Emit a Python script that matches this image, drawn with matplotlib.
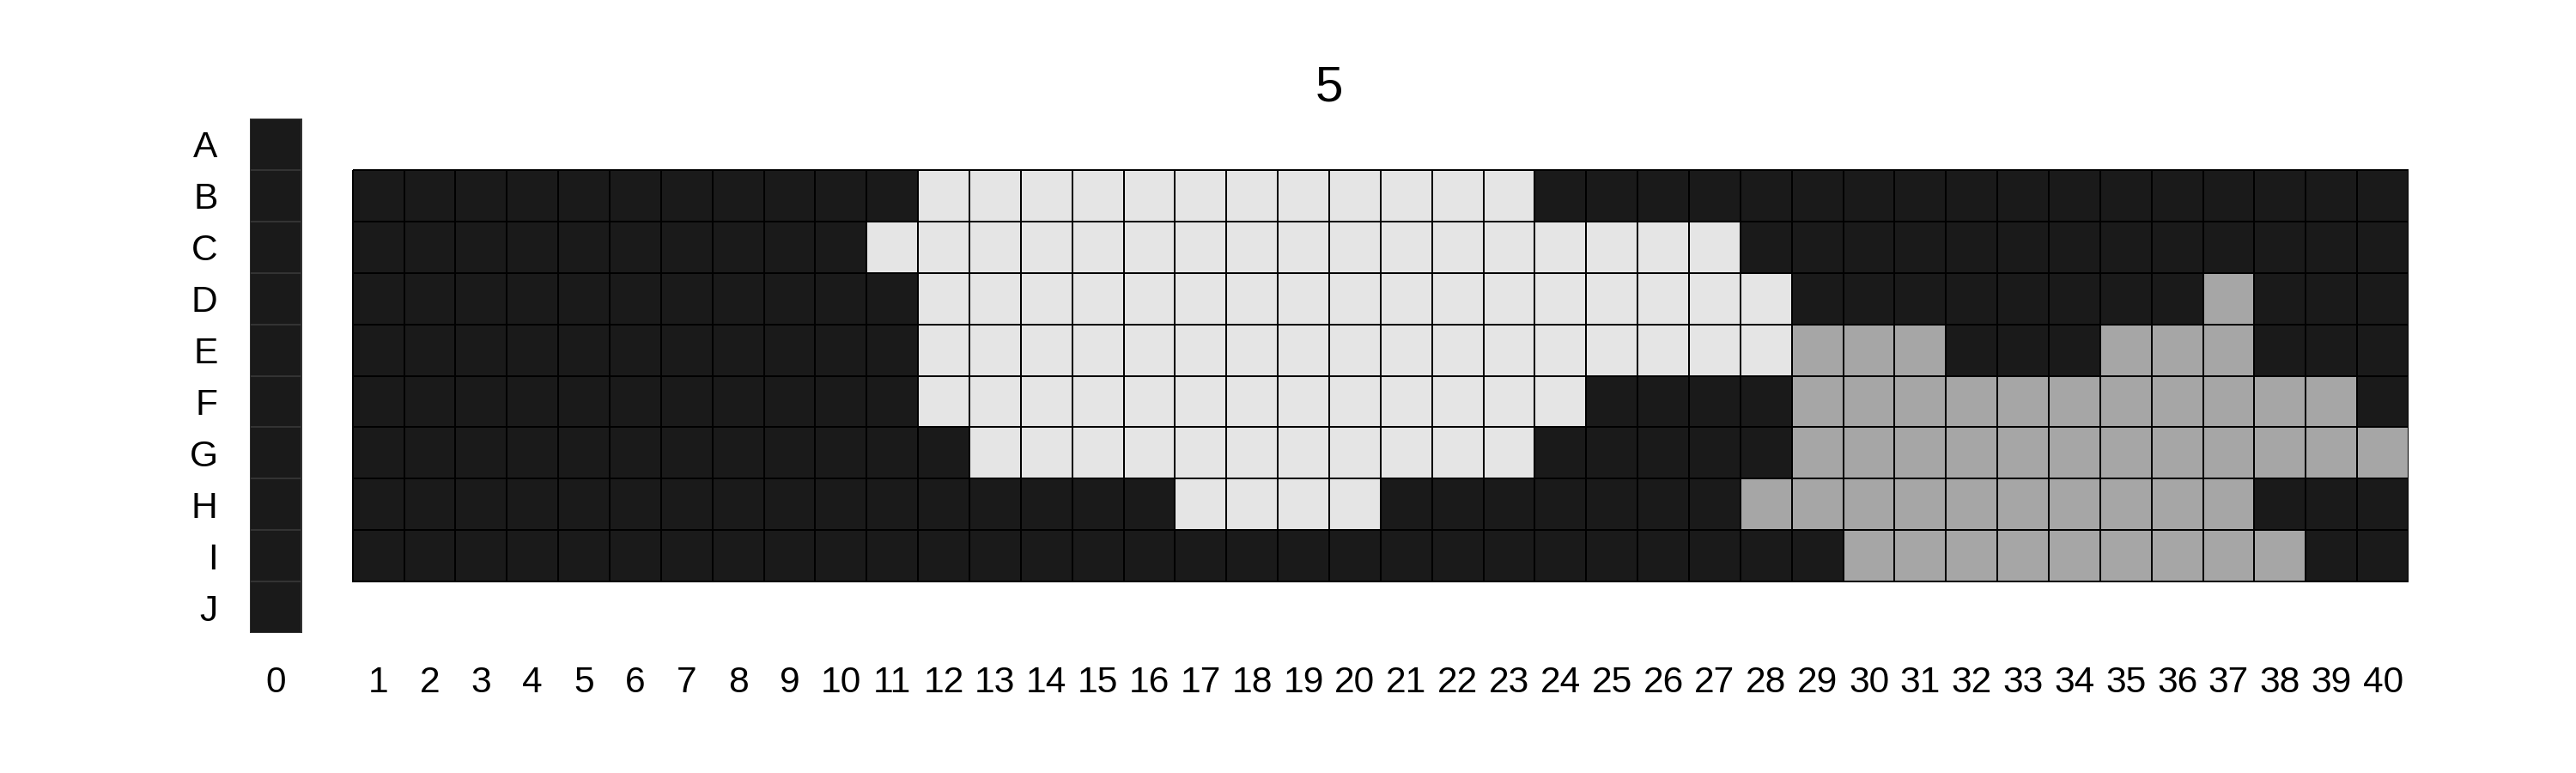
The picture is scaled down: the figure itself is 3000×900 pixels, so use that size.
import matplotlib
matplotlib.use("Agg")
import matplotlib.pyplot as plt
from matplotlib.colors import ListedColormap
import numpy as np

# cell states: 0 = dark, 1 = light grey, 2 = mid grey
row_labels = ["A", "B", "C", "D", "E", "F", "G", "H", "I", "J"]
col_labels = [str(i) for i in range(0, 41)]

column_0 = "0000000000"  # rows A..J

# columns 1..40, rows B..I
row_B = "0000000000011111111111100000000000000000"
row_C = "0000000000111111111111111110000000000000"
row_D = "0000000000011111111111111111000000002000"
row_E = "0000000000011111111111111111222000222000"
row_F = "0000000000011111111111110000222222222220"
row_G = "0000000000001111111111100000222222222222"
row_H = "0000000000000000111100000002222222222000"
row_I = "0000000000000000000000000000022222222200"
grid_rows = [row_B, row_C, row_D, row_E, row_F, row_G, row_H, row_I]

title = "5"
colors = ["#1a1a1a", "#e5e5e5", "#a6a6a6"]

plt.rcParams["font.family"] = ["Liberation Sans Narrow", "Liberation Sans", "DejaVu Sans"]

cmap = ListedColormap(colors)
col0 = np.array([[int(c)] for c in column_0])
main = np.array([[int(c) for c in r] for r in grid_rows])

fig = plt.figure(figsize=(10, 3), dpi=300)
ax = fig.add_axes([291 / 3000, 1 - 737 / 900, (2805 - 291) / 3000, (737 - 138) / 900])

ax.pcolormesh([-0.5, 0.5], np.arange(0, 11), col0, cmap=cmap, vmin=0, vmax=2,
              edgecolors="#333333", linewidth=0.4)
ax.pcolormesh(np.arange(1.5, 42.5, 1.0), np.arange(1, 10), main, cmap=cmap,
              vmin=0, vmax=2, edgecolors="#000000", linewidth=0.4)

ax.set_xlim(-0.5, 41.5)
ax.set_ylim(10, 0)
ax.set_xticks([0] + list(range(2, 42)))
ax.set_xticklabels(col_labels, fontsize=10.2)
ax.set_yticks(np.arange(10) + 0.5)
ax.set_yticklabels(row_labels, fontsize=10.2)
ax.tick_params(length=0, pad=9)
for s in ax.spines.values():
    s.set_visible(False)

fig.text((291 + 2805) / 2 / 3000, 1 - 103 / 900, title, ha="center", va="center",
         fontsize=14)

fig.savefig("out.png", dpi=300)
